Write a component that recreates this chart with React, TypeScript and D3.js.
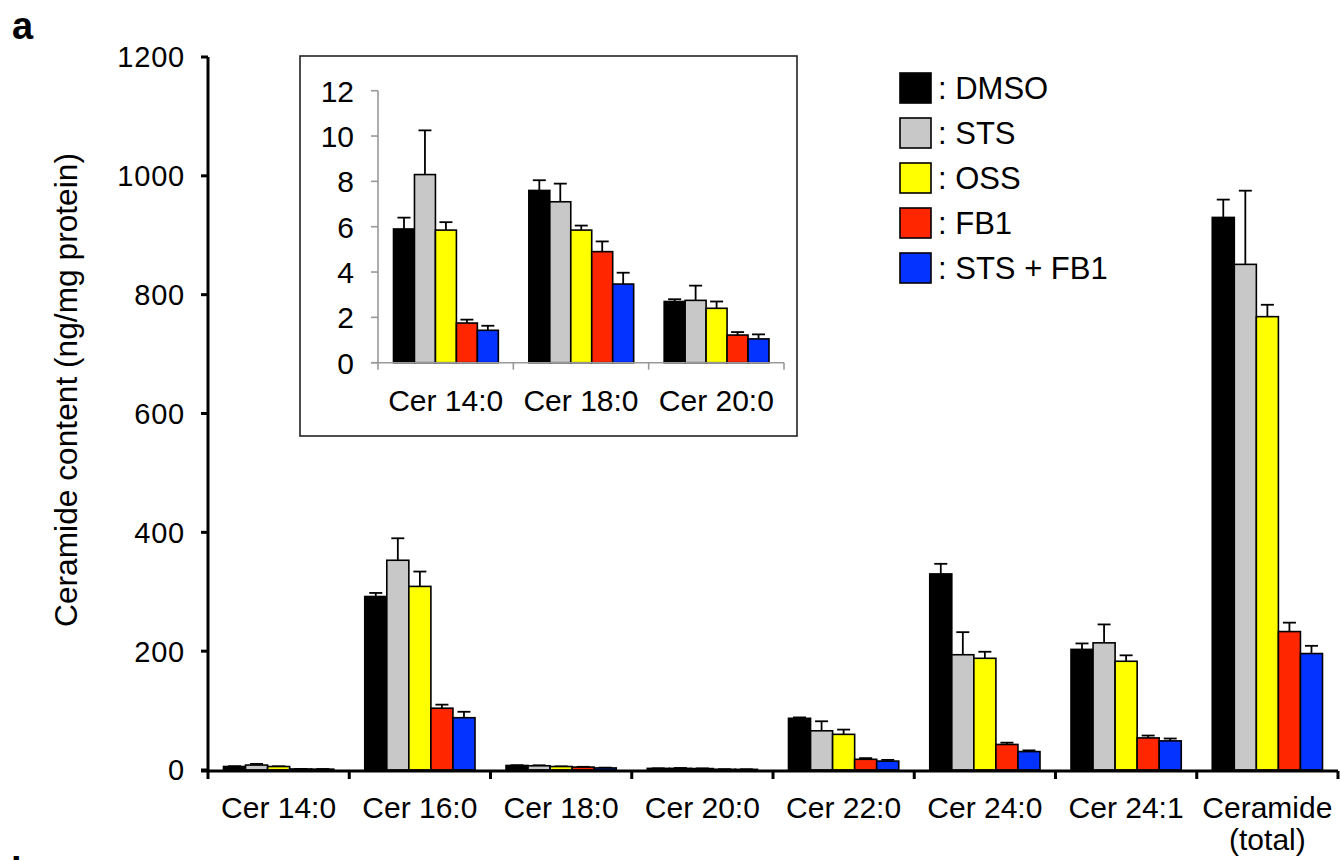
import React from "react";
import * as d3 from "d3";

// ceramide species (x categories)
const categories = [
  "Cer 14:0",
  "Cer 16:0",
  "Cer 18:0",
  "Cer 20:0",
  "Cer 22:0",
  "Cer 24:0",
  "Cer 24:1",
  "Ceramide\n(total)",
];
const seriesNames = ["DMSO", "STS", "OSS", "FB1", "STS + FB1"];
const seriesColors = ["#000000", "#c8c8c8", "#ffff00", "#ff2600", "#0433ff"];

// means (ng/mg protein)
const dmso = [5.9, 292, 7.6, 2.7, 87, 330, 203, 930];
const sts = [8.3, 353, 7.1, 2.75, 66, 194, 214, 851];
const oss = [5.85, 309, 5.85, 2.4, 60, 188, 183, 763];
const fb1 = [1.75, 104, 4.9, 1.22, 18, 43, 54, 233];
const stsFb1 = [1.43, 88, 3.47, 1.05, 15, 31, 49, 196];

// error (upper only)
const dmsoErr = [0.5, 6, 0.45, 0.1, 1.5, 17, 10, 30];
const stsErr = [1.95, 37, 0.8, 0.65, 16, 38, 31, 124];
const ossErr = [0.35, 25, 0.2, 0.3, 8, 11, 10, 20];
const fb1Err = [0.15, 6, 0.45, 0.13, 2, 3, 4, 15];
const stsFb1Err = [0.2, 10, 0.5, 0.2, 2, 2, 4, 13];

const mainTicks = [0, 200, 400, 600, 800, 1000, 1200];
const insetTicks = [0, 2, 4, 6, 8, 10, 12];
const insetIdx = [0, 2, 3]; // Cer 14:0, 18:0, 20:0

const means = [dmso, sts, oss, fb1, stsFb1];
const errs = [dmsoErr, stsErr, ossErr, fb1Err, stsFb1Err];

const FONT = "'Liberation Sans', Arial, Helvetica, sans-serif";

export default function App() {
  // main chart scales
  const x = d3.scaleBand().domain(categories).range([208, 1338]);
  const xs = d3
    .scaleBand()
    .domain(seriesNames)
    .range([15.5, x.bandwidth() - 15.5]);
  const y = d3.scaleLinear().domain([0, 1200]).range([770, 57]);

  // inset scales
  const insetCats = insetIdx.map((i) => categories[i]);
  const ix = d3.scaleBand().domain(insetCats).range([378, 784]);
  const ixs = d3
    .scaleBand()
    .domain(seriesNames)
    .range([15.5, ix.bandwidth() - 15]);
  const iy = d3.scaleLinear().domain([0, 12]).range([362.7, 90.7]);

  const bars = (
    cats: string[],
    idx: number[],
    xb: d3.ScaleBand<string>,
    xi: d3.ScaleBand<string>,
    ys: d3.ScaleLinear<number, number>
  ) =>
    cats.map((c, ci) => (
      <g key={c} transform={`translate(${xb(c)},0)`}>
        {seriesNames.map((s, si) => {
          const v = means[si][idx[ci]];
          const e = errs[si][idx[ci]];
          const bx = xi(s)!;
          const bw = xi.bandwidth();
          const cx = bx + bw / 2;
          return (
            <g key={s}>
              <line x1={cx} x2={cx} y1={ys(v)} y2={ys(v + e)} stroke="#000" strokeWidth={1.8} />
              <line x1={cx - 6.5} x2={cx + 6.5} y1={ys(v + e)} y2={ys(v + e)} stroke="#000" strokeWidth={1.8} />
              <rect
                x={bx}
                y={ys(v)}
                width={bw}
                height={ys(0) - ys(v)}
                fill={seriesColors[si]}
                stroke="#000"
                strokeWidth={1.6}
              />
            </g>
          );
        })}
      </g>
    ));

  const boundaries = [...categories.map((c) => x(c)!), x.range()[1]];
  const insetBounds = [...insetCats.map((c) => ix(c)!), ix.range()[1]];

  return (
    <svg width={1340} height={860} style={{ position: "absolute", left: 0, top: 0, background: "#fff" }} fontFamily={FONT}>
      <text x={12} y={39} fontSize={38} fontWeight="bold">a</text>
      <text x={11} y={884} fontSize={38} fontWeight="bold">b</text>

      {/* y axis title */}
      <text
        transform="translate(77,390) rotate(-90)"
        textAnchor="middle"
        fontSize={31}
        textLength={474}
        lengthAdjust="spacingAndGlyphs"
      >
        Ceramide content (ng/mg protein)
      </text>

      {/* main bars */}
      {bars(categories, categories.map((_, i) => i), x, xs, y)}

      {/* y axis */}
      <line x1={208} x2={208} y1={y(1200)} y2={y(0) + 1.5} stroke="#000" strokeWidth={3} />
      {mainTicks.map((t) => (
        <g key={t}>
          <line x1={201} x2={208} y1={y(t)} y2={y(t)} stroke="#000" strokeWidth={3} />
          <text x={185} y={y(t)} dy="0.36em" textAnchor="end" fontSize={29} letterSpacing={0.8}>
            {t}
          </text>
        </g>
      ))}

      {/* x axis */}
      <line x1={201} x2={1338} y1={771} y2={771} stroke="#000" strokeWidth={3} />
      {boundaries.map((b, i) => (
        <line key={i} x1={b} x2={b} y1={771} y2={779} stroke="#000" strokeWidth={3} />
      ))}
      {categories.map((c) => (
        <text key={c} x={x(c)! + x.bandwidth() / 2} y={818} textAnchor="middle" fontSize={30}>
          {c.split("\n").map((line, li) => (
            <tspan key={li} x={x(c)! + x.bandwidth() / 2} dy={li === 0 ? 0 : 32}>
              {line}
            </tspan>
          ))}
        </text>
      ))}

      {/* inset */}
      <rect x={300} y={56} width={497} height={380} fill="#fff" stroke="#222" strokeWidth={1.6} />
      {bars(insetCats, insetIdx, ix, ixs, iy)}
      <line x1={378} x2={378} y1={iy(12)} y2={iy(0)} stroke="#999" strokeWidth={1.6} />
      {insetTicks.map((t) => (
        <g key={t}>
          <line x1={371} x2={378} y1={iy(t)} y2={iy(t)} stroke="#999" strokeWidth={1.6} />
          <text x={354} y={iy(t)} dy="0.36em" textAnchor="end" fontSize={30}>
            {t}
          </text>
        </g>
      ))}
      <line x1={371} x2={784} y1={iy(0)} y2={iy(0)} stroke="#999" strokeWidth={1.6} />
      {insetBounds.map((b, i) => (
        <line key={i} x1={b} x2={b} y1={iy(0)} y2={iy(0) + 7} stroke="#999" strokeWidth={1.6} />
      ))}
      {insetCats.map((c) => (
        <text key={c} x={ix(c)! + ix.bandwidth() / 2} y={411} textAnchor="middle" fontSize={30}>
          {c}
        </text>
      ))}

      {/* legend */}
      {seriesNames.map((s, i) => (
        <g key={s} transform={`translate(900,${73 + i * 45})`}>
          <rect x={0} y={0} width={31} height={30} fill={seriesColors[i]} stroke="#000" strokeWidth={1.6} />
          <text x={38} y={15} dy="0.36em" fontSize={31}>
            : {s}
          </text>
        </g>
      ))}
    </svg>
  );
}
